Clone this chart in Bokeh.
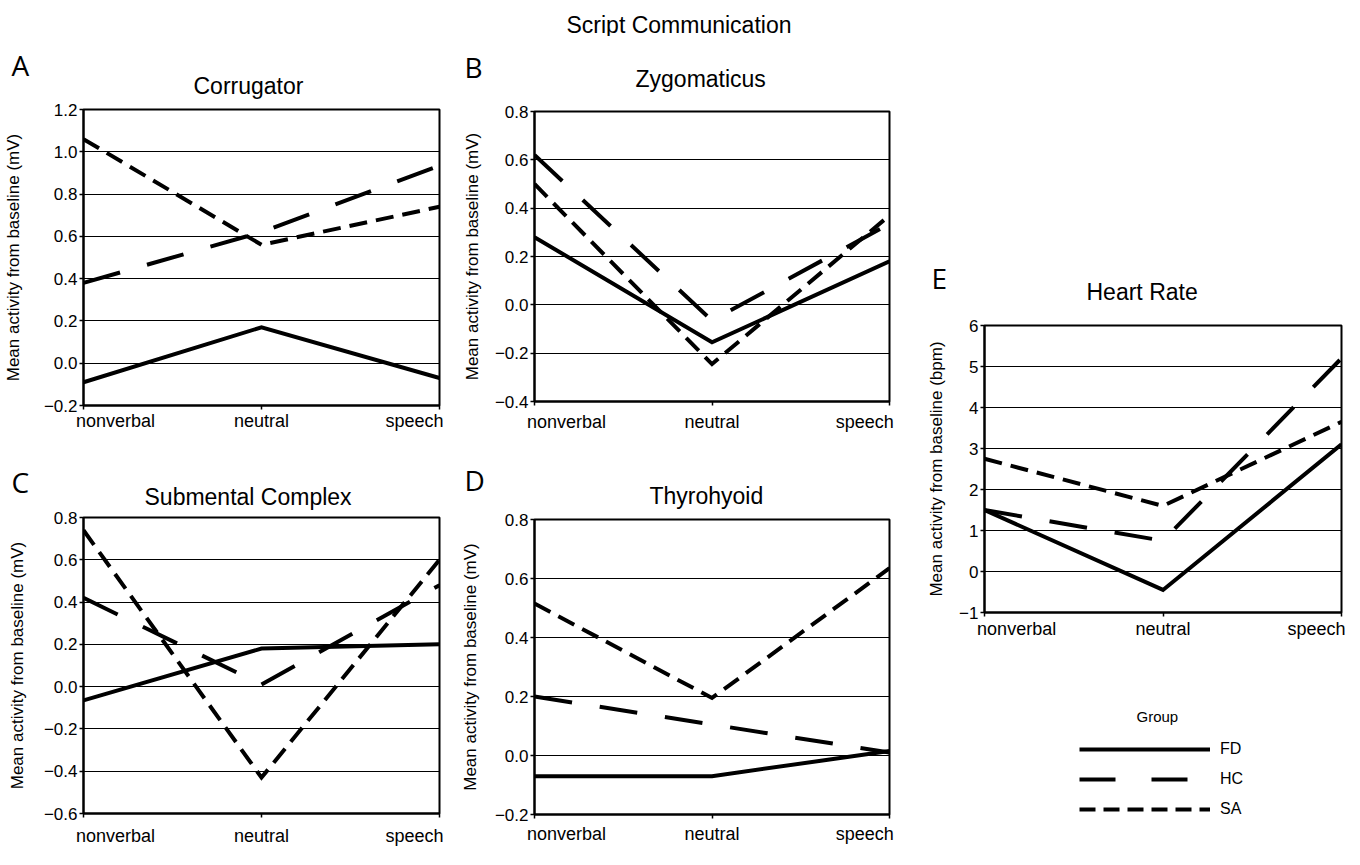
from bokeh.plotting import figure
from bokeh.models import FixedTicker, Legend, LegendItem, Range1d, Title
from bokeh.layouts import row, column
from bokeh.embed import file_html
from bokeh.resources import INLINE

# ---------------- data ----------------
conditions = ["nonverbal", "neutral", "speech"]
groups = ["FD", "HC", "SA"]

corrugator_fd = [-0.09, 0.17, -0.07]
corrugator_hc = [0.38, 0.62, 0.935]
corrugator_sa = [1.06, 0.56, 0.74]

zygomaticus_fd = [0.28, -0.155, 0.18]
zygomaticus_hc = [0.62, -0.065, 0.335]
zygomaticus_sa = [0.50, -0.245, 0.37]

submental_fd = [-0.065, 0.18, 0.20]
submental_hc = [0.42, 0.01, 0.48]
submental_sa = [0.74, -0.43, 0.60]

thyrohyoid_fd = [-0.07, -0.07, 0.015]
thyrohyoid_hc = [0.20, 0.105, 0.01]
thyrohyoid_sa = [0.515, 0.195, 0.635]

heart_fd = [1.5, -0.45, 3.1]
heart_hc = [1.5, 0.75, 5.2]
heart_sa = [2.75, 1.6, 3.65]

main_title = "Script Communication"
legend_title = "Group"
emg_label = "Mean activity from baseline (mV)"
hr_label = "Mean activity from baseline (bpm)"

FONT = "Liberation Sans"
LETTER_FONT = "Open Sans"
DASH = {"FD": "solid", "HC": "38 28", "SA": "18 9"}
LEGEND_DASH = {"FD": "solid", "HC": "36 36", "SA": "16 8"}

x_pos = list(range(len(conditions)))
label_pos = [0.18, 1.0, 1.86]


def fmt(t, dec):
    s = f"{t:.{dec}f}"
    if s.startswith("-"):
        s = "\u2212" + s[1:]
    if s in ("\u22120.0", "\u22120"):
        s = s[1:]
    return s


def ticks(lo, hi, step):
    n = int(round((hi - lo) / step))
    return [round(lo + i * step, 6) for i in range(n + 1)]


def panel(letter, title, series, yticks, dec, ylabel, fw, fh, bl, br, bt, bb,
          letter_off, letter_stand, title_off, title_stand, xstand, ystand):
    p = figure(frame_width=fw, frame_height=fh, title=None,
               min_border_left=bl, min_border_right=br,
               min_border_top=bt, min_border_bottom=bb,
               x_range=Range1d(0, len(conditions) - 1),
               y_range=Range1d(yticks[0], yticks[-1]),
               output_backend="svg", toolbar_location=None, tools="")
    p.background_fill_color = "white"
    p.border_fill_color = "white"
    p.outline_line_color = "black"
    p.outline_line_width = 2

    for g, vals in zip(groups, series):
        p.line(x=x_pos, y=vals, line_color="black", line_width=4,
               line_join="miter", line_dash=DASH[g])

    xa = p.xaxis[0]
    xa.ticker = FixedTicker(ticks=label_pos, minor_ticks=x_pos)
    xa.major_label_overrides = {lp: c for lp, c in zip(label_pos, conditions)}
    xa.major_tick_line_color = None
    xa.major_tick_out = 4
    xa.major_tick_in = 0
    xa.minor_tick_line_color = "black"
    xa.minor_tick_line_width = 1.5
    xa.minor_tick_out = 4
    xa.minor_tick_in = 0
    xa.axis_line_width = 2
    xa.major_label_text_font = FONT
    xa.major_label_text_font_size = "18px"
    xa.major_label_text_color = "black"
    xa.major_label_standoff = xstand

    ya = p.yaxis[0]
    ya.ticker = FixedTicker(ticks=yticks, minor_ticks=[])
    ya.major_label_overrides = {t: fmt(t, dec) for t in yticks}
    ya.major_tick_out = 4
    ya.major_tick_in = 0
    ya.major_tick_line_width = 1.5
    ya.axis_line_width = 2
    ya.major_label_text_font = FONT
    ya.major_label_text_font_size = "17px"
    ya.major_label_text_color = "black"
    ya.major_label_standoff = 2
    ya.axis_label = ylabel
    ya.axis_label_text_font = FONT
    ya.axis_label_text_font_size = "17px"
    ya.axis_label_text_font_style = "normal"
    ya.axis_label_text_color = "black"
    ya.axis_label_standoff = ystand

    p.xgrid.visible = False
    p.ygrid.grid_line_color = "black"
    p.ygrid.grid_line_width = 1

    p.add_layout(Title(text=title, align="left", offset=title_off, standoff=title_stand,
                       text_font=FONT, text_font_size="23px", text_font_style="normal",
                       text_color="black"), "above")
    p.add_layout(Title(text=letter, align="left", offset=letter_off, standoff=letter_stand,
                       text_font=LETTER_FONT, text_font_size="28px", text_font_style="normal",
                       text_color="black"), "above")
    return p


pA = panel("A", "Corrugator", [corrugator_fd, corrugator_hc, corrugator_sa],
           ticks(-0.2, 1.2, 0.2), 1, emg_label, 356, 296, 82, 14, 73, 35,
           -72, -46, 110, 21, 1, 18)
pB = panel("B", "Zygomaticus", [zygomaticus_fd, zygomaticus_hc, zygomaticus_sa],
           ticks(-0.4, 0.8, 0.2), 1, emg_label, 355, 290, 81, 9, 75, 39,
           -70, -84, 101, 40, 6, 10)
pC = panel("C", "Submental Complex", [submental_fd, submental_hc, submental_sa],
           ticks(-0.6, 0.8, 0.2), 1, emg_label, 356, 296, 82, 14, 77, 36,
           -72, -52, 61, 15, 8, 14)
pD = panel("D", "Thyrohyoid", [thyrohyoid_fd, thyrohyoid_hc, thyrohyoid_sa],
           ticks(-0.2, 0.8, 0.2), 1, emg_label, 355, 295, 81, 9, 79, 35,
           -70, -56, 115, 21, 5, 12)
pE = panel("E", "Heart Rate", [heart_fd, heart_hc, heart_sa],
           ticks(-1, 6, 1), 0, hr_label, 357, 287, 86, 4, 289, 33,
           -53, -83, 102, 42, 2, 10)

# ---------------- legend (own panel under E) ----------------
lf = figure(frame_width=447, frame_height=114, min_border=0, min_border_top=90,
            x_axis_type=None, y_axis_type=None,
            output_backend="svg", toolbar_location=None, tools="")
lf.outline_line_color = None
lf.title.text = legend_title
lf.title.align = "left"
lf.title.offset = 152
lf.title.standoff = 21
lf.title.text_font = FONT
lf.title.text_font_size = "15px"
lf.title.text_font_style = "normal"
lf.title.text_color = "black"
heart_series = {"FD": heart_fd, "HC": heart_hc, "SA": heart_sa}
items = []
for g in groups:
    r = lf.line(x=x_pos, y=heart_series[g], line_color="black", line_width=4,
                line_dash=LEGEND_DASH[g], visible=False)
    items.append(LegendItem(label=g, renderers=[r]))
leg = Legend(items=items, location=(181, 30), glyph_width=131, glyph_height=20,
             label_height=20, label_standoff=10, spacing=10, padding=0, margin=0,
             border_line_color=None, background_fill_alpha=0, inactive_fill_alpha=0,
             label_text_font=FONT, label_text_font_size="16px", label_text_color="black")
lf.add_layout(leg)

# ---------------- header ----------------
hdr = figure(frame_width=1344, frame_height=2, min_border=0, min_border_top=34,
             x_axis_type=None, y_axis_type=None,
             x_range=Range1d(0, 1), y_range=Range1d(0, 1),
             output_backend="svg", toolbar_location=None, tools="")
hdr.outline_line_color = None
hdr.title.text = main_title
hdr.title.align = "left"
hdr.title.offset = 566
hdr.title.standoff = -6
hdr.title.text_font = FONT
hdr.title.text_font_size = "23px"
hdr.title.text_font_style = "normal"
hdr.title.text_color = "black"

layout = column(hdr, row(column(pA, pC), column(pB, pD), column(pE, lf)))

open("out.html", "w").write(file_html(layout, INLINE))
